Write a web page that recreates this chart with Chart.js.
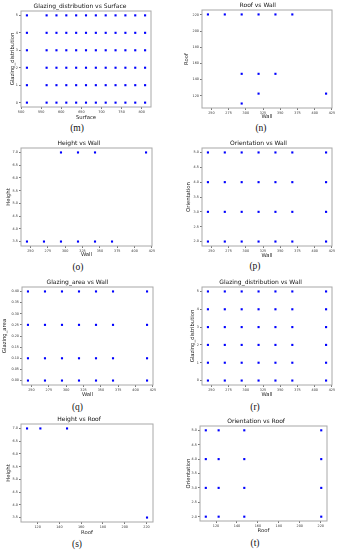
<!DOCTYPE html>
<html>
<head>
<meta charset="utf-8">
<script src="https://cdn.jsdelivr.net/npm/chart.js@4.4.0/dist/chart.umd.min.js"></script>
<style>
html,body{margin:0;padding:0;background:#fff;}
body{position:relative;width:339px;height:550px;overflow:hidden;}
canvas{position:absolute;}
.cap{position:absolute;font-family:"Liberation Serif","DejaVu Serif",serif;font-size:9.5px;transform:translate(-50%,-50%);white-space:nowrap;color:#111;}
</style>
</head>
<body>
<script>
// Distinct values found in the data
const surfaceVals = [514.5, 563.5, 588, 612.5, 637, 661.5, 686, 710.5, 735, 759.5, 784, 808.5];
const wallVals = [245, 269.5, 294, 318.5, 343, 367.5, 416.5];
const roofVals = [110.25, 122.5, 147, 220.5];
const glazDistVals = [0, 1, 2, 3, 4, 5];
const orientVals = [2, 3, 4, 5];
const glazAreaVals = [0, 0.1, 0.25, 0.4];

// Roof vs Wall pairs
const rwWall = [245, 269.5, 294, 318.5, 343, 367.5, 294, 318.5, 343, 318.5, 416.5, 294];
const rwRoof = [220.5, 220.5, 220.5, 220.5, 220.5, 220.5, 147, 147, 147, 122.5, 122.5, 110.25];

// Height vs Wall pairs
const hwWall = [294, 318.5, 343, 416.5, 245, 269.5, 294, 318.5, 343, 367.5];
const hwHeight = [7, 7, 7, 7, 3.5, 3.5, 3.5, 3.5, 3.5, 3.5];

// Height vs Roof pairs
const hrRoof = [110.25, 122.5, 147, 220.5];
const hrHeight = [7, 7, 7, 3.5];

// Axis ranges and tick steps
const surfaceTicks = {min: 499.8, max: 823.2, step: 50};
const wallTicks = {min: 236.4, max: 425.1, step: 25};
const roofTicks = {min: 104.7, max: 226.0, step: 20};
const glazDistTicks = {min: -0.25, max: 5.25, step: 1};
const heightTicks = {min: 3.325, max: 7.175, step: 0.5, dec: 1};
const orientTicks = {min: 1.85, max: 5.15, step: 0.5, dec: 1};
const glazAreaTicks = {min: -0.02, max: 0.42, step: 0.05, dec: 2};

function grid(xs, ys){
  const pts = [];
  xs.forEach(x=>ys.forEach(y=>pts.push({x, y})));
  return pts;
}
function pairs(xs, ys){ return xs.map((x,i)=>({x, y: ys[i]})); }

const panels = [
  {id:'m', col:0, L:21, R:151, T:11, B:107, yt:12.3, xt:117.3, cx:77, cy:127.7,
   title:'Glazing_distribution vs Surface', xl:'Surface', yl:'Glazing_distribution',
   xs:surfaceTicks, ys:glazDistTicks, pts:grid(surfaceVals, glazDistVals)},
  {id:'n', col:1, L:202, R:332, T:10, B:108, yt:186.7, xt:116.7, cx:261, cy:127.7,
   title:'Roof vs Wall', xl:'Wall', yl:'Roof',
   xs:wallTicks, ys:roofTicks, pts:pairs(rwWall, rwRoof)},
  {id:'o', col:0, L:21, R:152, T:148, B:246, yt:9, xt:255, cx:78, cy:266.7,
   title:'Height vs Wall', xl:'Wall', yl:'Height',
   xs:wallTicks, ys:heightTicks, pts:pairs(hwWall, hwHeight)},
  {id:'p', col:1, L:202, R:332, T:148, B:246, yt:188.3, xt:255.7, cx:255, cy:266,
   title:'Orientation vs Wall', xl:'Wall', yl:'Orientation',
   xs:wallTicks, ys:orientTicks, pts:grid(wallVals, orientVals)},
  {id:'q', col:0, L:22, R:153, T:287, B:385, yt:5, xt:394.3, cx:77.5, cy:407,
   title:'Glazing_area vs Wall', xl:'Wall', yl:'Glazing_area',
   xs:wallTicks, ys:glazAreaTicks, pts:grid(wallVals, glazAreaVals)},
  {id:'r', col:1, L:202, R:332, T:287, B:385, yt:192.3, xt:394.3, cx:255, cy:407,
   title:'Glazing_distribution vs Wall', xl:'Wall', yl:'Glazing_distribution',
   xs:wallTicks, ys:glazDistTicks, pts:grid(wallVals, glazDistVals)},
  {id:'s', col:0, L:21, R:153, T:424, B:522, yt:8.3, xt:532.3, cx:77, cy:544.3,
   title:'Height vs Roof', xl:'Roof', yl:'Height',
   xs:roofTicks, ys:heightTicks, pts:pairs(hrRoof, hrHeight)},
  {id:'t', col:1, L:200, R:327, T:426, B:521, yt:188.3, xt:530.7, cx:255, cy:542.7,
   title:'Orientation vs Roof', xl:'Roof', yl:'Orientation',
   xs:roofTicks, ys:orientTicks, pts:grid(roofVals, orientVals)}
];

const colX = [0, 170], colW = [170, 169];
const FONT = '"DejaVu Sans", sans-serif';
const titleSize = 6, axisSize = 5.3, tickSize = 3.4;
const titleH = titleSize*1.2 + 0.8;
const axisHalf = axisSize*1.2/2;

// grey frame round the plot area, like the matplotlib spines
const frame = {
  id:'frame',
  afterDraw(chart){
    const a = chart.chartArea, c = chart.ctx;
    c.save();
    c.strokeStyle = '#a8a8a8';
    c.lineWidth = 1;
    c.strokeRect(a.left, a.top, a.right - a.left, a.bottom - a.top);
    c.restore();
  }
};

function axis(t, label, size){
  return {
    type:'linear', min:t.min, max:t.max,
    border:{display:false},
    grid:{drawOnChartArea:false, drawTicks:true, tickLength:2, color:'#777'},
    ticks:{stepSize:t.step, includeBounds:false, autoSkip:false, maxRotation:0, padding:1,
      color:'#333', font:{family:FONT, size:tickSize},
      callback:v=> t.dec ? Number(v).toFixed(t.dec) : String(v)},
    title:{display:true, text:label, color:'#222', padding:0, font:{family:FONT, size:axisSize}},
    afterFit:size
  };
}

panels.forEach(p=>{
  const x0 = colX[p.col], w = colW[p.col];
  const top = Math.floor(p.T - 10);
  const axisBottom = p.xt + axisHalf;
  const h = Math.ceil(axisBottom + 1 - top);
  const axisLeft = p.yt - axisHalf;

  const cv = document.createElement('canvas');
  cv.width = w; cv.height = h;
  cv.style.left = x0 + 'px';
  cv.style.top = top + 'px';
  cv.style.width = w + 'px';
  cv.style.height = h + 'px';
  document.body.appendChild(cv);

  new Chart(cv, {
    type:'scatter',
    data:{datasets:[{
      data:p.pts,
      backgroundColor:'#0000ff',
      borderWidth:0,
      pointStyle:'rect',
      pointRadius:1.5,
      pointHoverRadius:1.5
    }]},
    options:{
      responsive:false,
      animation:false,
      layout:{padding:{
        left: axisLeft - x0,
        right: x0 + w - p.R,
        top: p.T - top - titleH,
        bottom: top + h - axisBottom
      }},
      plugins:{
        legend:{display:false},
        tooltip:{enabled:false},
        title:{display:true, text:p.title, color:'#111', padding:{top:0, bottom:0.8},
          font:{family:FONT, size:titleSize, weight:'normal'}}
      },
      scales:{
        x:axis(p.xs, p.xl, s=>{ s.height = axisBottom - p.B; }),
        y:axis(p.ys, p.yl, s=>{ s.width = p.L - axisLeft; })
      }
    },
    plugins:[frame]
  });

  const cap = document.createElement('div');
  cap.className = 'cap';
  cap.textContent = '(' + p.id + ')';
  cap.style.left = p.cx + 'px';
  cap.style.top = p.cy + 'px';
  document.body.appendChild(cap);
});
</script>
</body>
</html>
